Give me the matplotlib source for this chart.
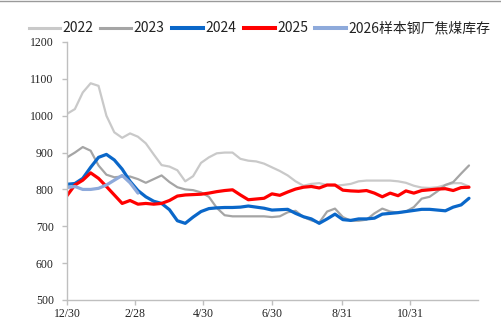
import matplotlib
matplotlib.use("Agg")
import matplotlib.pyplot as plt
from matplotlib.lines import Line2D
import numpy as np

# Weekly coking-coal inventory at sample steel mills (10k tonnes)
series_2022 = [1005, 1018, 1063, 1088, 1081, 1000, 955, 940, 952, 943, 925, 895, 866,
               862, 852, 822, 836, 872, 887, 898, 900, 900, 883, 878, 876, 870, 860,
               850, 838, 822, 810, 815, 817, 812, 810, 812, 815, 822, 824, 824, 824,
               824, 822, 818, 810, 805, 804, 806, 812, 817, 817, 808]
series_2023 = [887, 900, 915, 905, 865, 840, 833, 835, 835, 828, 818, 828, 838, 820,
               806, 800, 798, 792, 780, 750, 730, 727, 727, 727, 727, 727, 725, 727,
               738, 742, 725, 716, 710, 740, 748, 725, 715, 715, 718, 735, 748, 740,
               737, 740, 752, 775, 780, 795, 812, 820, 843, 865]
series_2024 = [814, 816, 830, 860, 887, 895, 880, 855, 822, 797, 780, 768, 762, 745,
               715, 708, 725, 740, 748, 750, 751, 751, 752, 755, 752, 749, 744, 745,
               746, 735, 726, 720, 708, 720, 733, 718, 716, 720, 720, 722, 733, 735,
               737, 740, 743, 746, 746, 744, 742, 752, 758, 776]
series_2025 = [783, 812, 825, 845, 830, 808, 785, 762, 770, 760, 762, 760, 762, 770,
               782, 785, 786, 787, 790, 794, 797, 799, 785, 772, 774, 776, 788, 784,
               793, 801, 806, 808, 804, 812, 812, 798, 796, 795, 797, 790, 780, 790,
               783, 796, 790, 797, 799, 801, 802, 797, 805, 806]
series_2026 = [805, 808, 800, 800, 803, 812, 825, 838, 818, 790]

series_names = ["2022", "2023", "2024", "2025", "2026样本钢厂焦煤库存"]
tick_days = [0, 60, 121, 182, 244, 305]
tick_labels = ["12/30", "2/28", "4/30", "6/30", "8/31", "10/31"]
y_ticks = [500, 600, 700, 800, 900, 1000, 1100, 1200]

colors = ["#c9c9c9", "#a5a5a5", "#0a67c9", "#ff0000", "#8eaadb"]
widths = [1.6, 1.6, 2.3, 2.3, 2.3]

W, H = 502, 333
fig = plt.figure(figsize=(W / 100, H / 100), dpi=100)
ax = fig.add_axes([67 / W, 1 - 300 / H, (478 - 67) / W, (300 - 42) / H])

all_series = [series_2022, series_2023, series_2024, series_2025, series_2026]
for vals, c, lw in zip(all_series, colors, widths):
    days = np.arange(len(vals)) * 7
    ax.plot(days, vals, color=c, lw=lw, solid_joinstyle="round", solid_capstyle="round")

ax.set_xlim(0, 365)
ax.set_ylim(500, 1200)
ax.set_xticks(tick_days)
ax.set_xticklabels(tick_labels)
ax.set_yticks(y_ticks)
ax.set_yticklabels([str(v) for v in y_ticks])

for side in ("top", "right"):
    ax.spines[side].set_visible(False)
for side in ("left", "bottom"):
    ax.spines[side].set_color("#bfbfbf")
    ax.spines[side].set_linewidth(1.0)
ax.tick_params(axis="both", direction="out", length=3.5, width=1.0, color="#bfbfbf",
               labelsize=8.5, labelcolor="#222222")
ax.tick_params(axis="y", pad=6)
ax.tick_params(axis="x", pad=2)
for lab in ax.get_xticklabels() + ax.get_yticklabels():
    lab.set_fontfamily("Liberation Serif")

# Legend row across the top
handle_x = [29, 100, 172, 244, 315]
leg_y = 28
for name, c, lw, hx in zip(series_names, colors, widths, handle_x):
    fig.add_artist(Line2D([hx / W, (hx + 31) / W], [1 - leg_y / H, 1 - leg_y / H],
                          color=c, lw=lw + 0.6, transform=fig.transFigure))
    fig.text((hx + 33) / W, 1 - leg_y / H, name, ha="left", va="center",
             fontsize=10, color="#222222",
             family=["Noto Sans CJK SC", "DejaVu Sans"])

# Thin frame line along the top edge
fig.add_artist(Line2D([0, 1], [1 - 0.8 / H, 1 - 0.8 / H], color="#9a9a9a", lw=1.0,
                      transform=fig.transFigure))

fig.savefig("out.png", dpi=100)
